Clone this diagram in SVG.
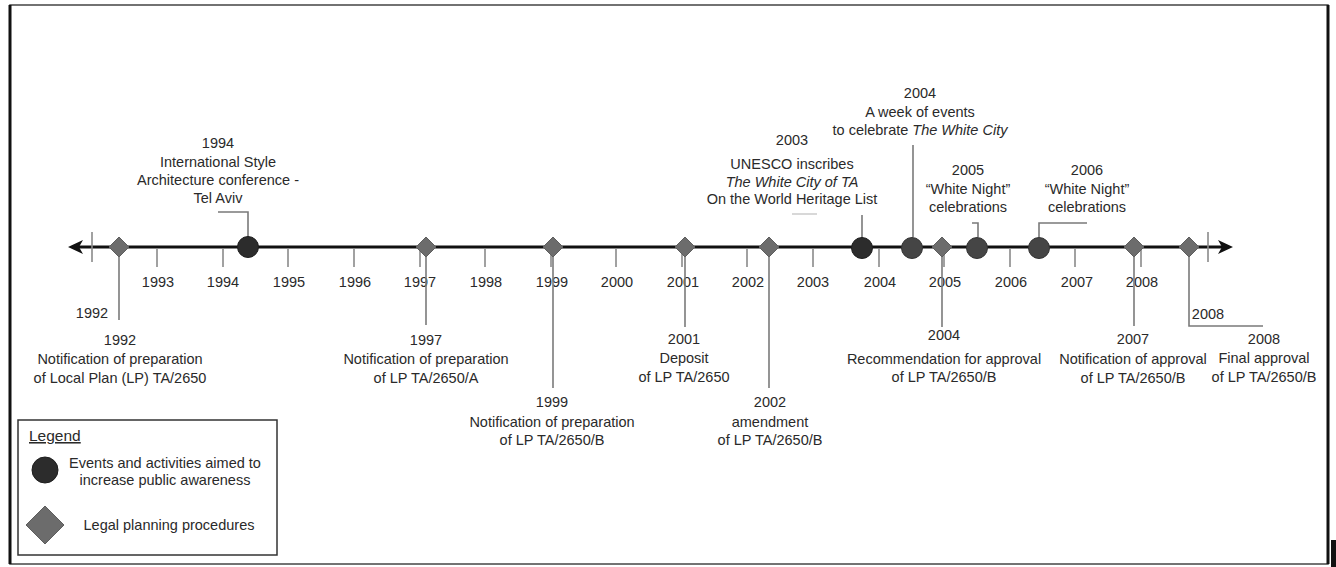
<svg xmlns="http://www.w3.org/2000/svg" width="1336" height="567" viewBox="0 0 1336 567">
<style>
text{font-family:"Liberation Sans",Arial,sans-serif;font-size:14.5px;fill:#2a2a2a;text-anchor:middle}
.lg{text-anchor:start}
.it{font-style:italic}
.c{stroke:#7a7a7a;stroke-width:1.6;fill:none}
.f{stroke:#cfcfcf;stroke-width:1.6;fill:none}
.tk{stroke:#8a8a8a;stroke-width:1.6}
.dm{fill:#6c6c6c;stroke:#5e5e5e;stroke-width:1}
.ev{fill:#454545;stroke:#333;stroke-width:1}
.ev1{fill:#2c2c2c;stroke:#1e1e1e;stroke-width:1}
</style>
<defs>
<path id="d" d="M0,-10 L10,0 L0,10 L-10,0 Z"/>
</defs>
<rect x="0" y="0" width="1336" height="567" fill="#fff"/>
<rect x="10" y="5" width="1318" height="559" fill="none" stroke="#444" stroke-width="1.5"/>
<line x1="10" y1="5" x2="10" y2="564" stroke="#111" stroke-width="3"/>
<line x1="1328" y1="5" x2="1328" y2="564" stroke="#111" stroke-width="3"/>
<rect x="1331" y="540" width="5" height="27" fill="#111"/>

<g id="axis">
<line x1="74" y1="247" x2="1222" y2="247" stroke="#111" stroke-width="3"/>
<path d="M68,247 L83,240 L79,247 L83,254 Z" fill="#111"/>
<path d="M1233,247 L1218,240 L1222,247 L1218,254 Z" fill="#111"/>
<line x1="92" y1="232" x2="92" y2="262" class="tk"/>
<line x1="1208" y1="232" x2="1208" y2="262" class="tk"/>
<g class="tk">
<line x1="157" y1="249" x2="157" y2="267"/>
<line x1="223" y1="249" x2="223" y2="267"/>
<line x1="288" y1="249" x2="288" y2="267"/>
<line x1="354" y1="249" x2="354" y2="267"/>
<line x1="420" y1="249" x2="420" y2="267"/>
<line x1="485" y1="249" x2="485" y2="267"/>
<line x1="551" y1="249" x2="551" y2="267"/>
<line x1="616" y1="249" x2="616" y2="267"/>
<line x1="682" y1="249" x2="682" y2="267"/>
<line x1="747" y1="249" x2="747" y2="267"/>
<line x1="813" y1="249" x2="813" y2="267"/>
<line x1="879" y1="249" x2="879" y2="267"/>
<line x1="944" y1="249" x2="944" y2="267"/>
<line x1="1010" y1="249" x2="1010" y2="267"/>
<line x1="1075" y1="249" x2="1075" y2="267"/>
<line x1="1141" y1="249" x2="1141" y2="267"/>
</g>
<text x="158" y="287">1993</text>
<text x="223" y="287">1994</text>
<text x="289" y="287">1995</text>
<text x="355" y="287">1996</text>
<text x="420" y="287">1997</text>
<text x="486" y="287">1998</text>
<text x="552" y="287">1999</text>
<text x="617" y="287">2000</text>
<text x="683" y="287">2001</text>
<text x="748" y="287">2002</text>
<text x="813" y="287">2003</text>
<text x="880" y="287">2004</text>
<text x="945" y="287">2005</text>
<text x="1011" y="287">2006</text>
<text x="1077" y="287">2007</text>
<text x="1142" y="287">2008</text>
<text x="92" y="318">1992</text>
<text x="1208" y="319">2008</text>
</g>

<g id="connectors">
<polyline class="c" points="218,212 248,212 248,237"/>
<line class="f" x1="792" y1="214" x2="817" y2="214"/>
<line class="c" x1="862" y1="215" x2="862" y2="238"/>
<line class="c" x1="913" y1="145" x2="913" y2="237"/>
<polyline class="c" points="972,223 978,223 978,237"/>
<polyline class="c" points="1087,223 1039,223 1039,237"/>
<line class="c" x1="119" y1="257" x2="119" y2="320"/>
<line class="c" x1="426" y1="257" x2="426" y2="325"/>
<line class="c" x1="553" y1="257" x2="553" y2="388"/>
<line class="c" x1="685" y1="257" x2="685" y2="327"/>
<line class="c" x1="769" y1="257" x2="769" y2="388"/>
<line class="c" x1="942" y1="257" x2="942" y2="327"/>
<line class="c" x1="1134" y1="257" x2="1134" y2="326"/>
<polyline class="c" points="1189,257 1189,326 1263,326"/>
</g>

<g id="n1992">
<use href="#d" x="119" y="247" class="dm"/>
<text x="120" y="345">1992</text>
<text x="120" y="364">Notification of preparation</text>
<text x="120" y="383">of Local Plan (LP) TA/2650</text>
</g>
<g id="n1994">
<circle cx="248" cy="247" r="10.5" class="ev1"/>
<text x="218" y="148">1994</text>
<text x="218" y="167">International Style</text>
<text x="218" y="185">Architecture conference -</text>
<text x="218" y="203">Tel Aviv</text>
</g>
<g id="n1997">
<use href="#d" x="426" y="247" class="dm"/>
<text x="426" y="345">1997</text>
<text x="426" y="364">Notification of preparation</text>
<text x="426" y="383">of LP TA/2650/A</text>
</g>
<g id="n1999">
<use href="#d" x="553" y="247" class="dm"/>
<text x="552" y="407">1999</text>
<text x="552" y="427">Notification of preparation</text>
<text x="552" y="445">of LP TA/2650/B</text>
</g>
<g id="n2001">
<use href="#d" x="685" y="247" class="dm"/>
<text x="684" y="344">2001</text>
<text x="684" y="363">Deposit</text>
<text x="684" y="382">of LP TA/2650</text>
</g>
<g id="n2002">
<use href="#d" x="769" y="247" class="dm"/>
<text x="770" y="407">2002</text>
<text x="770" y="427">amendment</text>
<text x="770" y="445">of LP TA/2650/B</text>
</g>
<g id="n2003">
<circle cx="862" cy="248" r="10.5" class="ev1"/>
<text x="792" y="145">2003</text>
<text x="792" y="169">UNESCO inscribes</text>
<text x="792" y="187" class="it">The White City of TA</text>
<text x="792" y="204">On the World Heritage List</text>
</g>
<g id="n2004a">
<circle cx="912" cy="248" r="10.5" class="ev"/>
<text x="920" y="98">2004</text>
<text x="920" y="117">A week of events</text>
<text x="920" y="135">to celebrate <tspan class="it">The White City</tspan></text>
</g>
<g id="n2004b">
<use href="#d" x="942" y="247" class="dm"/>
<text x="944" y="340">2004</text>
<text x="944" y="364">Recommendation for approval</text>
<text x="944" y="382">of LP TA/2650/B</text>
</g>
<g id="n2005">
<circle cx="977" cy="248" r="10.5" class="ev"/>
<text x="968" y="175">2005</text>
<text x="968" y="194">“White Night”</text>
<text x="968" y="212">celebrations</text>
</g>
<g id="n2006">
<circle cx="1039" cy="248" r="10.5" class="ev"/>
<text x="1087" y="175">2006</text>
<text x="1087" y="194">“White Night”</text>
<text x="1087" y="212">celebrations</text>
</g>
<g id="n2007">
<use href="#d" x="1134" y="247" class="dm"/>
<text x="1133" y="344">2007</text>
<text x="1133" y="364">Notification of approval</text>
<text x="1133" y="383">of LP TA/2650/B</text>
</g>
<g id="n2008">
<use href="#d" x="1189" y="247" class="dm"/>
<text x="1264" y="344">2008</text>
<text x="1264" y="363">Final approval</text>
<text x="1264" y="382">of LP TA/2650/B</text>
</g>

<g id="legend">
<rect x="18" y="420" width="259" height="135" fill="#fff" stroke="#333" stroke-width="1.5"/>
<text x="29" y="441" class="lg" style="font-size:15.5px;text-decoration:underline">Legend</text>
<circle cx="45" cy="470" r="13" class="ev1"/>
<text x="165" y="468">Events and activities aimed to</text>
<text x="165" y="485">increase public awareness</text>
<path d="M45,506 L64,525 L45,544 L26,525 Z" class="dm"/>
<text x="169" y="530">Legal planning procedures</text>
</g>
</svg>
